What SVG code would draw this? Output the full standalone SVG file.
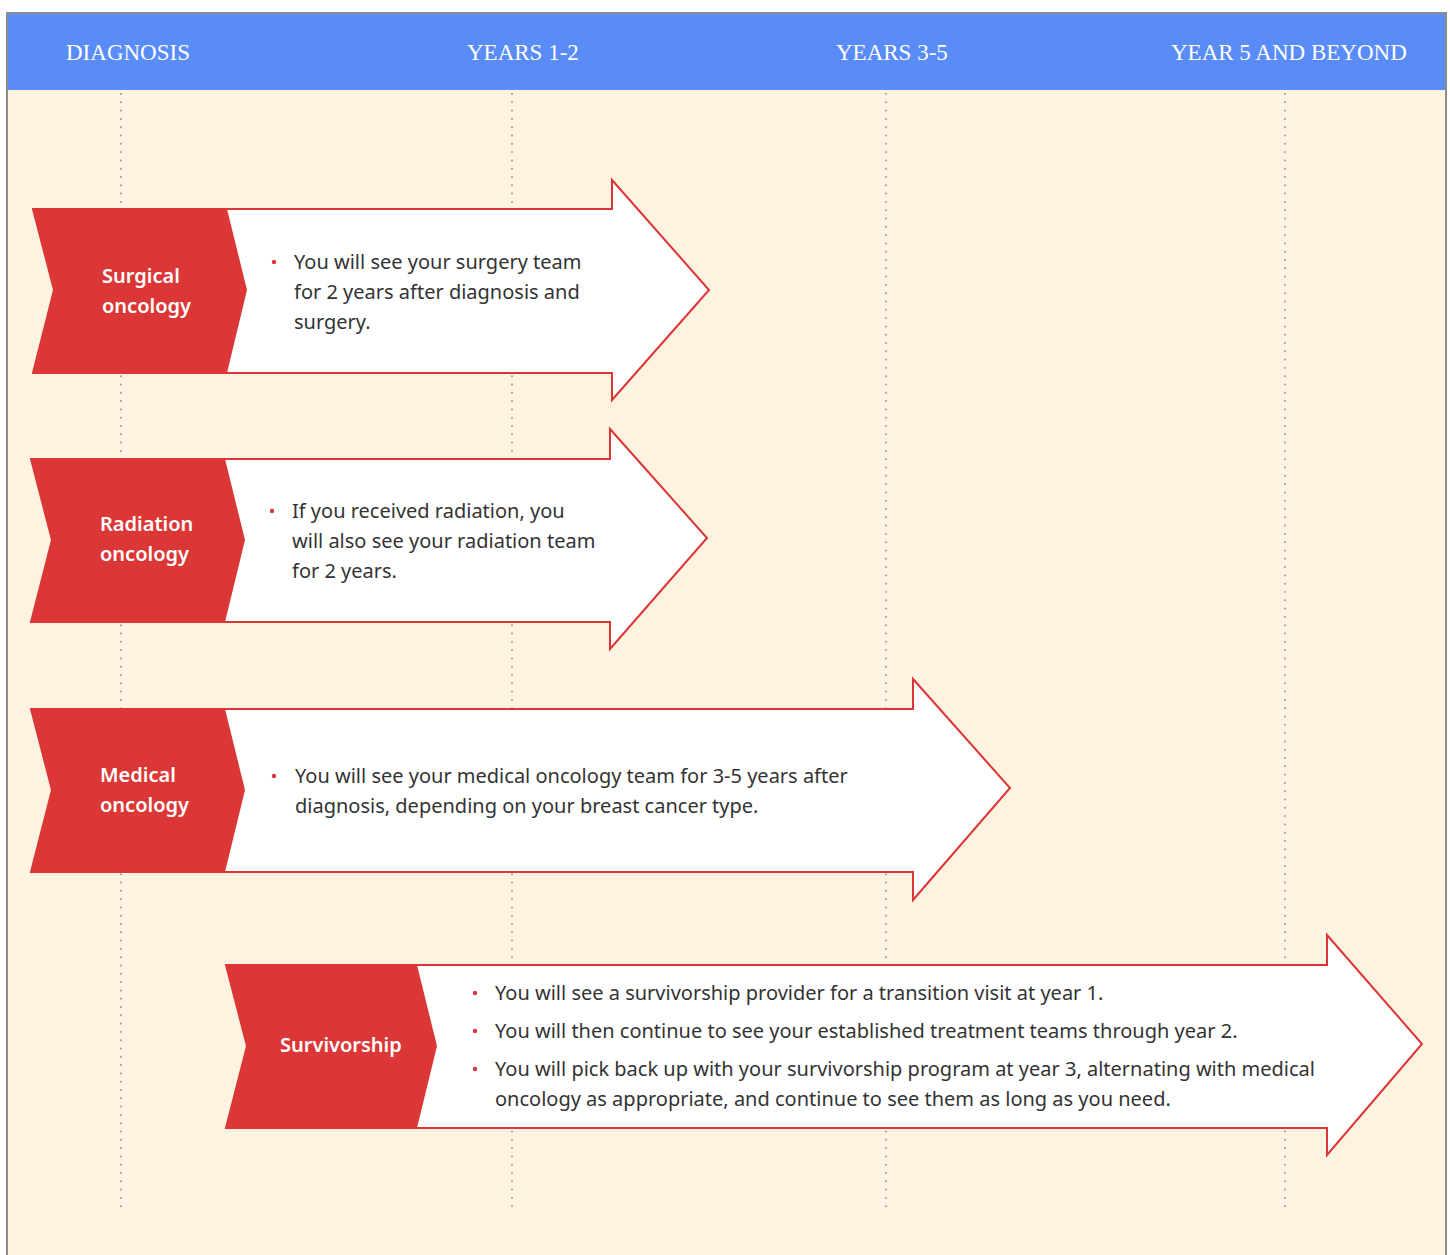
<svg xmlns="http://www.w3.org/2000/svg" width="1450" height="1255" viewBox="0 0 1450 1255">
<style>
.hdr{font-family:"Liberation Serif","Times New Roman",serif;font-size:23px;fill:#ffffff;}
.lbl{font-family:"Noto Sans","Open Sans",sans-serif;font-size:20px;font-weight:600;fill:#ffffff;}
.txt{font-family:"Noto Sans","Open Sans",sans-serif;font-size:20px;fill:#333333;}
.dot{fill:#dd3535;}
.body{fill:#ffffff;stroke:#dd3535;stroke-width:2;}
.chev{fill:#dc3737;}
.grid{stroke:#9a9a9a;stroke-width:2;stroke-dasharray:0 8.3;stroke-linecap:round;fill:none;}
</style>
<rect x="0" y="0" width="1450" height="1255" fill="#ffffff"/>
<rect x="7" y="13" width="1439" height="1250" fill="#fdf3e0" stroke="#8c8c8c" stroke-width="2"/>
<rect x="8" y="14" width="1437" height="76" fill="#5a8cf8"/>
<g id="headers">
<text class="hdr" x="66" y="60">DIAGNOSIS</text>
<text class="hdr" x="467" y="60">YEARS 1-2</text>
<text class="hdr" x="836" y="60">YEARS 3-5</text>
<text class="hdr" x="1171" y="60">YEAR 5 AND BEYOND</text>
</g>
<g id="connectors">
<line class="grid" x1="121" y1="94" x2="121" y2="1210"/>
<line class="grid" x1="512" y1="94" x2="512" y2="1210"/>
<line class="grid" x1="886" y1="94" x2="886" y2="1210"/>
<line class="grid" x1="1285" y1="94" x2="1285" y2="1210"/>
</g>
<g id="surgical">
<polygon class="body" points="33,209 612,209 612,180 709,290 612,400 612,373 33,373 54,290"/>
<polygon class="chev" points="33,209 227,209 247,290 227,373 33,373 54,290"/>
<text class="lbl" x="102" y="283">Surgical</text>
<text class="lbl" x="102" y="313">oncology</text>
<circle class="dot" cx="274" cy="262" r="2.2"/>
<text class="txt" x="294" y="269">You will see your surgery team</text>
<text class="txt" x="294" y="299">for 2 years after diagnosis and</text>
<text class="txt" x="294" y="329">surgery.</text>
</g>
<g id="radiation">
<polygon class="body" points="31,459 610,459 610,429 707,538 610,649 610,622 31,622 52,540"/>
<polygon class="chev" points="31,459 225,459 245,540 225,622 31,622 52,540"/>
<text class="lbl" x="100" y="531">Radiation</text>
<text class="lbl" x="100" y="561">oncology</text>
<circle class="dot" cx="272" cy="511" r="2.2"/>
<text class="txt" x="292" y="518">If you received radiation, you</text>
<text class="txt" x="292" y="548">will also see your radiation team</text>
<text class="txt" x="292" y="578">for 2 years.</text>
</g>
<g id="medical">
<polygon class="body" points="31,709 913,709 913,679 1010,788 913,900 913,872 31,872 52,790"/>
<polygon class="chev" points="31,709 225,709 245,790 225,872 31,872 52,790"/>
<text class="lbl" x="100" y="782">Medical</text>
<text class="lbl" x="100" y="812">oncology</text>
<circle class="dot" cx="274" cy="776" r="2.2"/>
<text class="txt" x="295" y="783">You will see your medical oncology team for 3-5 years after</text>
<text class="txt" x="295" y="813">diagnosis, depending on your breast cancer type.</text>
</g>
<g id="survivorship">
<polygon class="body" points="226,965 1327,965 1327,935 1422,1044 1327,1155 1327,1128 226,1128 247,1046"/>
<polygon class="chev" points="226,965 417,965 437,1046 417,1128 226,1128 247,1046"/>
<text class="lbl" x="280" y="1052">Survivorship</text>
<circle class="dot" cx="475" cy="993" r="2.2"/>
<text class="txt" x="495" y="1000">You will see a survivorship provider for a transition visit at year 1.</text>
<circle class="dot" cx="475" cy="1031" r="2.2"/>
<text class="txt" x="495" y="1038">You will then continue to see your established treatment teams through year 2.</text>
<circle class="dot" cx="475" cy="1069" r="2.2"/>
<text class="txt" x="495" y="1076">You will pick back up with your survivorship program at year 3, alternating with medical</text>
<text class="txt" x="495" y="1106">oncology as appropriate, and continue to see them as long as you need.</text>
</g>
</svg>
